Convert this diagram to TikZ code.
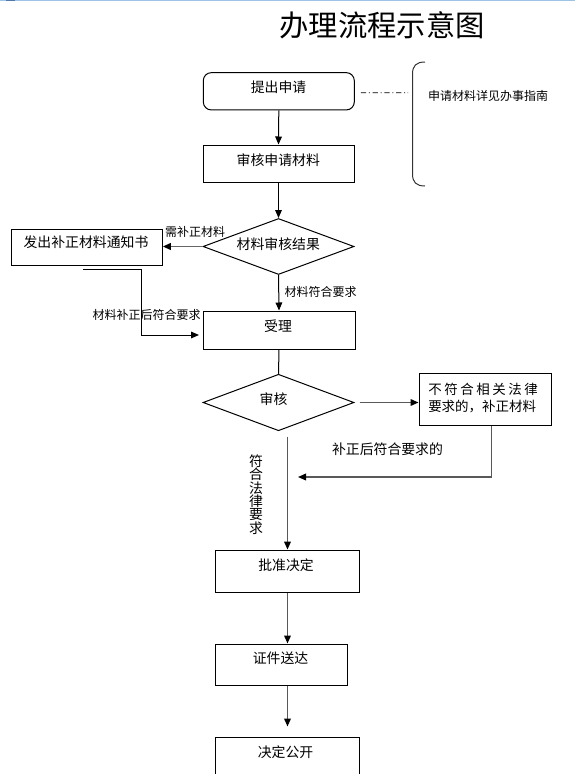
\documentclass[tikz,border=0pt]{standalone}
\usepackage{fontspec}
\setmainfont{Noto Sans CJK SC}
\usetikzlibrary{shapes.geometric,arrows.meta,calc}
\def\PX{0.75pt}
\definecolor{edgeblue}{RGB}{157,195,230}
\definecolor{edgedark}{RGB}{80,120,170}
\begin{document}
\begin{tikzpicture}[x=0.75pt,y=-0.75pt,
  box/.style={draw=black, line width=0.75pt, inner sep=0pt, fill=none},
  dia/.style={draw=black, line width=0.75pt, diamond, inner sep=0pt},
  lbl/.style={inner sep=0pt, font=\fontsize{10.4pt}{12pt}\selectfont},
  small/.style={inner sep=0pt, font=\fontsize{9pt}{11pt}\selectfont},
  arr/.style={draw=black, line width=0.75pt, -{Triangle[length=6pt,width=5pt]}},
  garr/.style={draw=black!65, line width=1.1pt, -{Triangle[length=6pt,width=5pt,fill=black,color=black]}},
  plain/.style={draw=black, line width=0.75pt},
  dashdot/.style={draw=black, line width=0.6pt, dash pattern=on 4pt off 2pt on 0.8pt off 2pt}
]
\useasboundingbox (0,0) rectangle (575,774);
\clip (0,0) rectangle (575,774);
% top page edge
\fill[edgeblue] (0,0) rectangle (575,1.2);
\fill[edgedark] (6,0) rectangle (15,1.2);

% title
\node[inner sep=0pt, font=\fontsize{22pt}{26pt}\selectfont] (title) at (382,25.5) {办理流程示意图};

% boxes
\node[box, rounded corners=6pt, minimum width=151*\PX, minimum height=37.3*\PX] (apply) at (278.8,91.3) {};
\node[lbl] (applyT) at (278.5,87.3) {提出申请};

\node[box, minimum width=151*\PX, minimum height=37*\PX] (check) at (278.5,163.5) {};
\node[lbl] (checkT) at (278.3,160) {审核申请材料};

\node[dia, minimum width=151*\PX, minimum height=56*\PX] (res) at (278.5,246.5) {};
\node[lbl] (resT) at (278.3,244.3) {材料审核结果};

\node[box, minimum width=150.6*\PX, minimum height=36*\PX] (notice) at (87,247) {};
\node[lbl] (noticeT) at (86,242.7) {发出补正材料通知书};

\node[box, minimum width=152*\PX, minimum height=38*\PX] (accept) at (279,330) {};
\node[lbl] (acceptT) at (278,326) {受理};

\node[dia, minimum width=151*\PX, minimum height=56.5*\PX] (audit) at (278.5,402.5) {};
\node[lbl] (auditT) at (273.5,399.5) {审核};

\node[box, minimum width=132*\PX, minimum height=52*\PX] (fix) at (485,399) {};
\node[inner sep=0pt, anchor=west, align=left, font=\fontsize{10.1pt}{13pt}\selectfont] (fixT) at (428,398)
  {不\kern1.9pt 符\kern1.9pt 合\kern1.9pt 相\kern1.9pt 关\kern1.9pt 法\kern1.9pt 律\\要求的，补正材料};

\node[box, minimum width=143.6*\PX, minimum height=42.3*\PX] (approve) at (287.5,571.2) {};
\node[lbl] (approveT) at (286,565) {批准决定};

\node[box, minimum width=131.6*\PX, minimum height=41*\PX] (deliver) at (281.5,664.5) {};
\node[lbl] (deliverT) at (280.5,658) {证件送达};

\node[box, minimum width=143.6*\PX, minimum height=60*\PX] (publish) at (287.5,767) {};
\node[lbl] (publishT) at (285.5,751.7) {决定公开};

% side note with bracket
\node[small] (note) at (488,96) {申请材料详见办事指南};
\coordinate (dashEnd) at (408,92.7);
\draw[dashdot] ($(apply.east)+(6,1.4)$) -- (dashEnd);
\draw[draw=black!80, line width=0.75pt] (425,62) .. controls (416,62) and (412.5,66) .. (412.5,74)
  -- (412.5,174) .. controls (412.5,182) and (416,186) .. (425,186);

% connectors
\draw[arr] (apply.south) -- (check.north);
\draw[arr] (check.south) -- (res.north);
\draw[draw=black!60, line width=1.3pt, -{Triangle[length=6pt,width=5pt,color=black]}] (res.west) -- (res.west -| notice.east);
\node[small] (needT) at (195,231.7) {需补正材料};
\draw[arr] (res.south) -- (accept.north);
\node[small] (okT) at (320.5,292) {材料符合要求};

\coordinate (fbStart) at (83,269);
\coordinate (fbCorner) at (141.7,335);
\coordinate (fbEnd) at (199,335);
\draw[arr] (fbStart) -| (fbCorner) -- (fbEnd);
\node[small] (fbT) at (146.5,315) {材料补正后符合要求};

\draw[plain] (accept.south) -- (audit.north);
\draw[garr, shorten <=3.75pt] (audit.east) -- (audit.east -| fix.west);

\coordinate (retEnd) at (298,477);
\draw[garr] ($(fix.south)+(6.7,0)$) |- (retEnd);
\node[lbl] (retT) at (387.5,449) {补正后符合要求的};

\coordinate (okStart) at (287.5,436.7);
\draw[garr] (okStart) -- (approve.north);
\node[inner sep=0pt, align=center, font=\fontsize{10.4pt}{10.1pt}\selectfont] (lawT) at (256,494.5)
  {符\\合\\法\\律\\要\\求};

\draw[garr] (approve.south) -- (approve.south |- deliver.north);
\draw[garr, shorten >=7.5pt] (deliver.south -| publish.north) -- (publish.north);
\end{tikzpicture}
\end{document}
